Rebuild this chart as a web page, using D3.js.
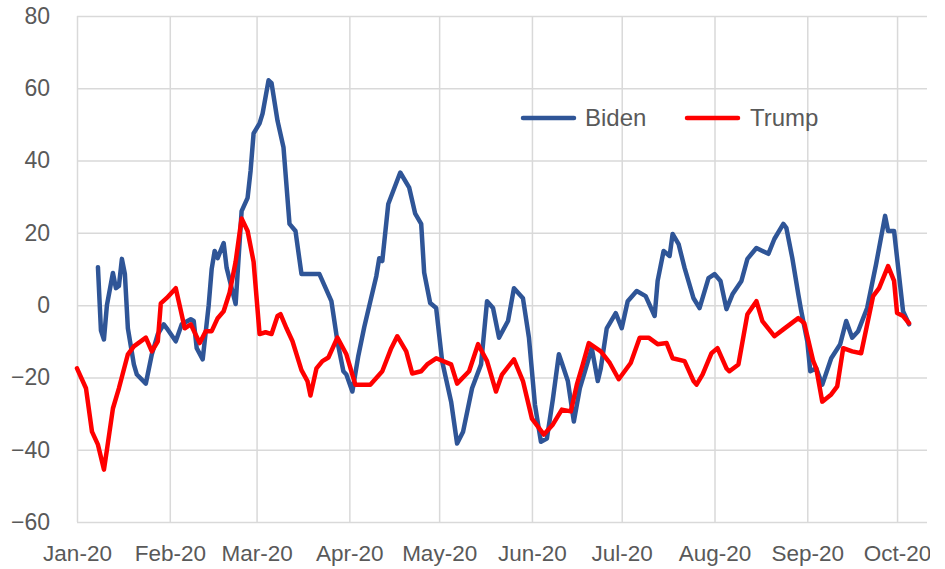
<!DOCTYPE html>
<html>
<head>
<meta charset="utf-8">
<script src="https://cdn.jsdelivr.net/npm/d3@7"></script>
<style>
  body { margin: 0; background: #fff; }
  svg { display: block; font-family: "Liberation Sans", Arial, sans-serif; }
</style>
</head>
<body>
<div id="chart"></div>
<script>
// Month ticks and y ticks
const monthTicks = ["01-01", "02-01", "03-01", "04-01", "05-01", "06-01", "07-01", "08-01", "09-01", "10-01"];
const yTicks = [-60, -40, -20, 0, 20, 40, 60, 80];

// Biden series (dates are MM-DD in 2020)
const bidenDates = ["01-08", "01-09", "01-10", "01-11", "01-13", "01-14", "01-15", "01-16", "01-17", "01-18",
  "01-20", "01-21", "01-24", "01-26", "01-28", "01-30", "01-31", "02-03", "02-05", "02-08",
  "02-09", "02-10", "02-12", "02-14", "02-15", "02-16", "02-17", "02-19", "02-20", "02-23",
  "02-25", "02-27", "02-28", "02-29", "03-02", "03-03", "03-05", "03-06", "03-08", "03-10",
  "03-12", "03-14", "03-16", "03-19", "03-22", "03-26", "03-28", "03-30", "03-31", "04-02",
  "04-04", "04-06", "04-08", "04-10", "04-11", "04-12", "04-14", "04-18", "04-21", "04-23",
  "04-25", "04-26", "04-28", "04-30", "05-02", "05-05", "05-07", "05-09", "05-12", "05-15",
  "05-17", "05-19", "05-21", "05-24", "05-26", "05-29", "05-31", "06-02", "06-04", "06-06",
  "06-08", "06-10", "06-11", "06-13", "06-15", "06-17", "06-19", "06-21", "06-23", "06-24",
  "06-26", "06-29", "07-01", "07-03", "07-06", "07-09", "07-12", "07-13", "07-15", "07-17",
  "07-18", "07-20", "07-22", "07-25", "07-27", "07-30", "08-01", "08-03", "08-05", "08-07",
  "08-10", "08-12", "08-15", "08-19", "08-21", "08-24", "08-25", "08-27", "08-29", "08-30",
  "09-01", "09-02", "09-04", "09-06", "09-09", "09-12", "09-14", "09-16", "09-18", "09-21",
  "09-24", "09-27", "09-28", "09-30", "10-03", "10-05"];
const bidenValues = [10.5, -7, -9.5, 0, 8.9, 4.7, 5.3, 12.8, 8.6, -6.4,
  -16.4, -19.2, -21.7, -13.6, -8, -5.3, -6.4, -10, -5.3, -3.9,
  -4.4, -11.9, -15, 0, 10, 15, 13, 17.2, 10.3, 0.3,
  26, 29.7, 37.2, 47.5, 50.3, 53, 62.2, 61.4, 51, 43.6,
  22.5, 20.5, 8.6, 8.6, 8.6, 1.1, -10, -18.3, -19.2, -23.9,
  -14, -6, 1, 8, 13, 12.2, 28, 36.7, 32.5, 25.3,
  22.5, 9, 0.6, -0.8, -15.5, -26.7, -38.3, -35, -23, -16.4,
  1.1, -0.8, -9, -4.4, 4.7, 1.9, -9, -27.5, -37.8, -36.9,
  -26, -13.6, -16, -21, -32.2, -23, -17.5, -11.9, -21, -17.5,
  -6.4, -2.2, -6.4, 1.1, 3.9, 2.5, -3, 6.7, 15, 13.6,
  19.7, 16.9, 10.3, 1.9, -0.8, 7.5, 8.6, 6.7, -1.1, 3,
  6.7, 12.8, 15.8, 14.2, 18.3, 22.5, 21.4, 13, 3, -1.7,
  -10, -18.3, -17.5, -22, -14.7, -10.8, -4.4, -9, -7.2, -0.8,
  11.4, 24.7, 20.5, 20.5, -1.7, -5.3];

// Trump series
const trumpDates = ["01-01", "01-04", "01-06", "01-08", "01-10", "01-11", "01-13", "01-15", "01-18", "01-20",
  "01-24", "01-26", "01-28", "01-29", "01-31", "02-03", "02-04", "02-06", "02-08", "02-11",
  "02-13", "02-15", "02-17", "02-19", "02-21", "02-23", "02-25", "02-27", "02-29", "03-02",
  "03-04", "03-06", "03-08", "03-09", "03-11", "03-13", "03-16", "03-18", "03-19", "03-21",
  "03-23", "03-25", "03-28", "03-31", "04-03", "04-08", "04-12", "04-15", "04-17", "04-20",
  "04-22", "04-25", "04-27", "04-30", "05-05", "05-07", "05-11", "05-14", "05-17", "05-20",
  "05-22", "05-26", "05-29", "06-01", "06-05", "06-08", "06-11", "06-14", "06-16", "06-18",
  "06-20", "06-24", "06-27", "06-30", "07-04", "07-07", "07-10", "07-13", "07-16", "07-18",
  "07-22", "07-25", "07-26", "07-28", "07-31", "08-02", "08-05", "08-06", "08-09", "08-12",
  "08-15", "08-17", "08-21", "08-24", "08-29", "08-31", "09-03", "09-04", "09-06", "09-09",
  "09-11", "09-13", "09-16", "09-19", "09-23", "09-25", "09-28", "09-30", "10-01", "10-03",
  "10-05"];
const trumpValues = [-17.5, -23, -35, -38.6, -45.5, -40, -28.6, -23, -13.6, -11.4,
  -9, -12.8, -10, 0.5, 2, 4.7, 1, -6.4, -5.3, -10.5,
  -7.2, -7.2, -3.6, -1.7, 3.5, 12, 24, 20.5, 12, -8,
  -7.5, -8, -3, -2.5, -6.4, -10, -18, -21, -25, -17.5,
  -15.5, -14.5, -9, -13.6, -22, -22, -18.3, -11.9, -8.6, -12.8,
  -18.9, -18.3, -16.4, -14.7, -16.4, -21.7, -18.3, -10.8, -15.5, -23.9,
  -19.2, -15, -21, -31.4, -35.8, -33, -28.9, -29.4, -22, -16.4,
  -10.5, -12.8, -16, -20.5, -16, -9, -9, -10.8, -10.5, -14.7,
  -15.5, -21, -22, -19.2, -13.3, -11.9, -17.5, -18.3, -16.4, -2.5,
  1.1, -4.4, -8.6, -6.7, -3.6, -5, -15.5, -17.5, -26.7, -24.7,
  -22.5, -11.9, -12.8, -13.3, 2.5, 4.7, 10.8, 6.7, -2.2, -3,
  -5];

function drawLineChart() {
    const parse = d3.timeParse("%Y-%m-%d");
    const toDate = s => parse("2020-" + s);

    // Plot area in page pixels
    const left = 77, right = 927, top = 16, bottom = 522;

    const svg = d3.select("#chart")
        .append("svg")
        .attr("width", 930)
        .attr("height", 569);

    const xScale = d3.scaleTime()
        .domain([toDate("01-01"), toDate("10-11")])
        .range([left, right]);

    const yScale = d3.scaleLinear()
        .domain([-60, 80])
        .range([bottom, top]);

    const grid = "#d9d9d9";
    const textColor = "#595959";

    // Horizontal gridlines + y labels
    const yAxis = svg.append("g")
        .attr("transform", `translate(${left},0)`)
        .call(d3.axisLeft(yScale).tickValues(yTicks).tickSize(-(right - left)).tickPadding(27).tickFormat(d3.format("d")));
    yAxis.select(".domain").remove();
    yAxis.selectAll("line").attr("stroke", grid).attr("stroke-width", 1.5);
    yAxis.selectAll("text").attr("fill", textColor).style("font-size", "23px");

    // Vertical gridlines + month labels
    const xAxis = svg.append("g")
        .attr("transform", `translate(0,${bottom})`)
        .call(d3.axisBottom(xScale).tickValues(monthTicks.map(toDate)).tickSize(-(bottom - top)).tickPadding(23).tickFormat(d3.timeFormat("%b-%y")));
    xAxis.select(".domain").remove();
    xAxis.selectAll("line").attr("stroke", grid).attr("stroke-width", 1.5);
    xAxis.selectAll("text").attr("fill", textColor).style("font-size", "22.5px");

    const line = d3.line()
        .x(d => xScale(d[0]))
        .y(d => yScale(d[1]));

    const series = [
        { name: "Biden", color: "#2f5597", points: bidenDates.map((d, i) => [toDate(d), bidenValues[i]]) },
        { name: "Trump", color: "#ff0000", points: trumpDates.map((d, i) => [toDate(d), trumpValues[i]]) }
    ];

    series.forEach(s => {
        svg.append("path")
            .datum(s.points)
            .attr("fill", "none")
            .attr("stroke", s.color)
            .attr("stroke-width", 4.5)
            .attr("stroke-linejoin", "round")
            .attr("stroke-linecap", "round")
            .attr("d", line);
    });

    // Legend
    const legendPos = [{ x: 523, tx: 585 }, { x: 687, tx: 750 }];
    series.forEach((s, i) => {
        const g = svg.append("g");
        g.append("line")
            .attr("x1", legendPos[i].x).attr("x2", legendPos[i].x + 51)
            .attr("y1", 118).attr("y2", 118)
            .attr("stroke", s.color).attr("stroke-width", 4.5)
            .attr("stroke-linecap", "round");
        g.append("text")
            .attr("x", legendPos[i].tx).attr("y", 126)
            .attr("fill", textColor)
            .style("font-size", "24px")
            .text(s.name);
    });
}

drawLineChart();
</script>
</body>
</html>
